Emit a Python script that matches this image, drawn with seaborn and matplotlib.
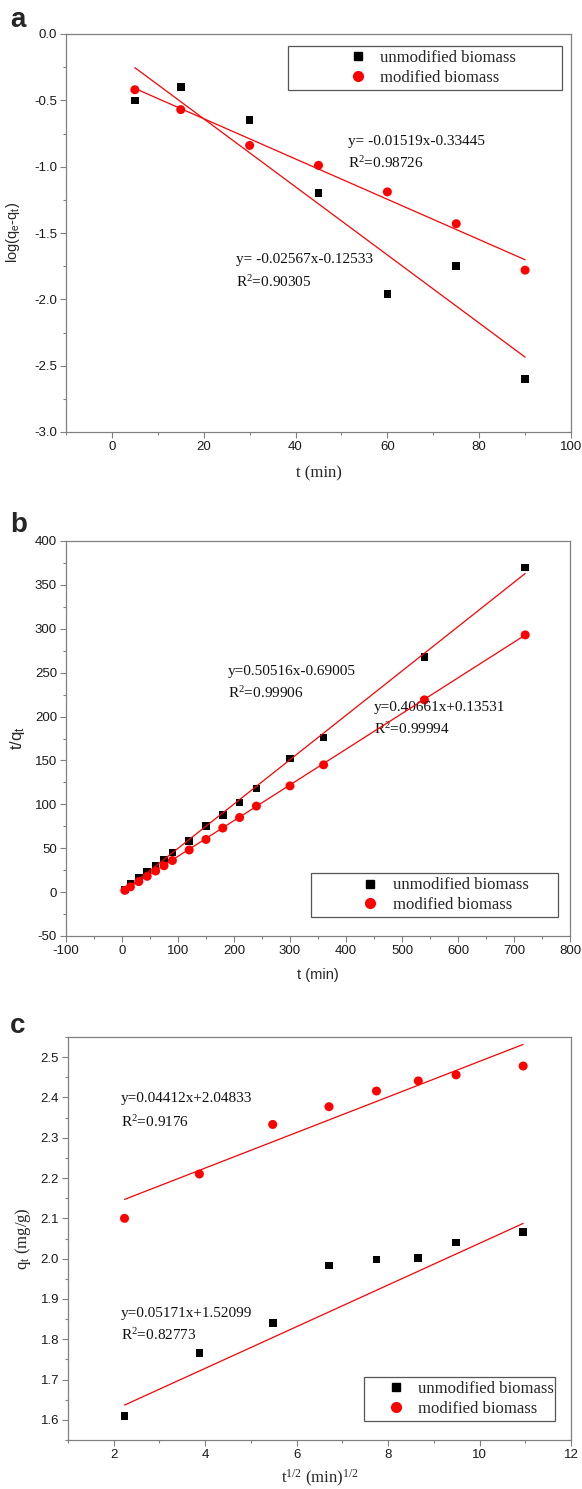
import numpy as np
import pandas as pd
import matplotlib
matplotlib.use("Agg")
import matplotlib.pyplot as plt
from matplotlib.lines import Line2D
from matplotlib.ticker import MultipleLocator
import seaborn as sns

# ---------------- data ----------------
series_names = ["unmodified biomass", "modified biomass"]

# panel a : pseudo-first-order
t_a = [5, 15, 30, 45, 60, 75, 90]
a_unmod = [-0.50, -0.40, -0.65, -1.20, -1.96, -1.75, -2.60]
a_mod = [-0.42, -0.57, -0.84, -0.99, -1.19, -1.43, -1.78]
a_fit_unmod = (-0.02567, -0.12533)
a_fit_mod = (-0.01519, -0.33445)
a_eq_unmod = ["y= -0.02567x-0.12533", "R$^\\mathrm{2}$=0.90305"]
a_eq_mod = ["y= -0.01519x-0.33445", "R$^\\mathrm{2}$=0.98726"]

# panel b : pseudo-second-order
t_b = [5, 15, 30, 45, 60, 75, 90, 120, 150, 180, 210, 240, 300, 360, 540, 720]
b_unmod = [3, 9, 16, 23, 30, 37, 45, 58, 75, 88, 102, 118, 152, 176, 268, 370]
b_mod = [2, 6, 12, 18, 24, 30, 36, 48, 60, 73, 85, 98, 121, 145, 219, 293]
b_fit_unmod = (0.50516, -0.69005)
b_fit_mod = (0.40661, 0.13531)
b_eq_unmod = ["y=0.50516x-0.69005", "R$^\\mathrm{2}$=0.99906"]
b_eq_mod = ["y=0.40661x+0.13531", "R$^\\mathrm{2}$=0.99994"]

# panel c : intraparticle diffusion
sqrt_t_c = [2.236, 3.873, 5.477, 6.708, 7.746, 8.660, 9.487, 10.954]
c_unmod = [1.610, 1.766, 1.840, 1.983, 1.998, 2.001, 2.040, 2.066]
c_mod = [2.100, 2.210, 2.333, 2.377, 2.416, 2.441, 2.456, 2.478]
c_fit_unmod = (0.05171, 1.52099)
c_fit_mod = (0.04412, 2.04833)
c_eq_unmod = ["y=0.05171x+1.52099", "R$^\\mathrm{2}$=0.82773"]
c_eq_mod = ["y=0.04412x+2.04833", "R$^\\mathrm{2}$=0.9176"]

# ---------------- style ----------------
sns.set_theme(style="ticks")
SANS = ["Liberation Sans", "DejaVu Sans"]
SERIF = ["Liberation Serif", "DejaVu Serif"]
plt.rcParams["font.family"] = SANS
plt.rcParams["axes.unicode_minus"] = False
plt.rcParams["mathtext.fontset"] = "custom"
plt.rcParams["mathtext.rm"] = "Liberation Serif"
plt.rcParams["mathtext.it"] = "Liberation Serif:italic"
plt.rcParams["mathtext.sf"] = "Liberation Sans"
plt.rcParams["mathtext.bf"] = "Liberation Sans:bold"

AX_COL = "#808080"
palette = {series_names[0]: "black", series_names[1]: "#ff0000"}
markers = {series_names[0]: "s", series_names[1]: "o"}
msize = {series_names[0]: 30, series_names[1]: 42}

fig = plt.figure(figsize=(5.82, 14.89), dpi=100)
W, H = 582.0, 1489.0


def make_ax(left, right, top, bottom):
    return fig.add_axes([left / W, 1 - bottom / H, (right - left) / W, (bottom - top) / H])


def style_ax(ax, xlim, ylim, xmaj, xmin, ymaj, ymin):
    ax.set_xlim(*xlim)
    ax.set_ylim(*ylim)
    ax.xaxis.set_major_locator(MultipleLocator(xmaj))
    ax.xaxis.set_minor_locator(MultipleLocator(xmin))
    ax.yaxis.set_major_locator(MultipleLocator(ymaj))
    ax.yaxis.set_minor_locator(MultipleLocator(ymin))
    for sp in ax.spines.values():
        sp.set_visible(True)
        sp.set_color(AX_COL)
        sp.set_linewidth(0.9)
    ax.tick_params(which="both", direction="out", color=AX_COL, width=0.8,
                   top=False, right=False, labelsize=9.5, labelcolor="#1a1a1a", pad=2.5)
    ax.tick_params(which="major", length=4)
    ax.tick_params(which="minor", length=2.5)
    ax.grid(False)


def draw_series(ax, x, yu, ym, fu, fm):
    df = pd.DataFrame({
        "x": list(x) + list(x),
        "y": list(yu) + list(ym),
        "series": [series_names[0]] * len(x) + [series_names[1]] * len(x),
    })
    for name in series_names:
        sns.scatterplot(data=df[df["series"] == name], x="x", y="y",
                        color=palette[name], marker=markers[name], s=msize[name],
                        edgecolor="none", linewidth=0, legend=False, ax=ax, zorder=3)
    xs = np.array([min(x), max(x)])
    for (k, b) in (fu, fm):
        sns.lineplot(x=xs, y=k * xs + b, color="#ff0000", linewidth=0.9,
                     estimator=None, ax=ax, zorder=4)
    ax.set_xlabel("")
    ax.set_ylabel("")


def add_legend(ax, x0, x1, ytop, hl, htp):
    handles = [Line2D([], [], linestyle="none", marker=markers[n], color=palette[n],
                      markersize=(6.0 if markers[n] == "s" else 7.0)) for n in series_names]
    leg = ax.legend(handles, series_names, loc="upper left",
                    bbox_to_anchor=(x0, ytop - 0.2, x1 - x0, 0.2), mode="expand",
                    borderaxespad=0, borderpad=0.25, labelspacing=0.22,
                    handlelength=hl, handletextpad=htp, numpoints=1,
                    frameon=True, fancybox=False, prop={"family": SERIF, "size": 12})
    fr = leg.get_frame()
    fr.set_edgecolor("#555555")
    fr.set_linewidth(0.9)
    fr.set_alpha(1)
    return leg


def add_eq(ax, x, y1, y2, lines):
    ax.text(x, y1, lines[0], family=SERIF, fontsize=11, va="center", ha="left", color="#111")
    ax.text(x, y2, lines[1], family=SERIF, fontsize=11, va="center", ha="left", color="#111")


# ---------------- panel a ----------------
axa = make_ax(66, 571, 34, 432)
draw_series(axa, t_a, a_unmod, a_mod, a_fit_unmod, a_fit_mod)
style_ax(axa, (-10, 100), (-3.0, 0.0), 20, 10, 0.5, 0.25)
axa.set_ylabel("log(q$_\\mathsf{e}$-q$_\\mathsf{t}$)", family=SANS, fontsize=10.5)
axa.yaxis.set_label_coords(-0.088, 0.5)
axa.set_xlabel("t (min)", family=SERIF, fontsize=12)
axa.xaxis.set_label_coords(0.5, -0.085)
add_legend(axa, 0.44, 0.982, 0.970, 7.9, -2.65)
add_eq(axa, 51.5, -0.81, -0.975, a_eq_mod)
add_eq(axa, 27.0, -1.70, -1.87, a_eq_unmod)
fig.text(10 / W, 1 - 20 / H, "a", fontsize=20, fontweight="bold", va="center", ha="left")

# ---------------- panel b ----------------
axb = make_ax(66, 570, 541, 936)
draw_series(axb, t_b, b_unmod, b_mod, b_fit_unmod, b_fit_mod)
style_ax(axb, (-100, 800), (-50, 400), 100, 50, 50, 25)
axb.set_ylabel("t/q$_\\mathsf{t}$", family=SANS, fontsize=12)
axb.yaxis.set_label_coords(-0.077, 0.5)
axb.set_xlabel("t (min)", family=SANS, fontsize=10.5)
axb.xaxis.set_label_coords(0.5, -0.082)
add_legend(axb, 0.486, 0.976, 0.159, 6.6, -1.95)
add_eq(axb, 189, 251, 227, b_eq_unmod)
add_eq(axb, 450, 210, 186, b_eq_mod)
fig.text(10 / W, 1 - 525 / H, "b", fontsize=20, fontweight="bold", va="center", ha="left")

# ---------------- panel c ----------------
axc = make_ax(68, 571, 1037, 1440)
draw_series(axc, sqrt_t_c, c_unmod, c_mod, c_fit_unmod, c_fit_mod)
style_ax(axc, (1, 12), (1.55, 2.55), 2, 1, 0.1, 0.05)
axc.set_ylabel("q$_\\mathrm{t}$ (mg/g)", family=SERIF, fontsize=12)
axc.yaxis.set_label_coords(-0.07, 0.5)
axc.set_xlabel("t$^{\\mathrm{1/2}}$ (min)$^{\\mathrm{1/2}}$", family=SERIF, fontsize=12)
axc.xaxis.set_label_coords(0.5, -0.068)
add_legend(axc, 0.588, 0.968, 0.156, 3.4, -0.4)
add_eq(axc, 2.15, 2.397, 2.34, c_eq_mod)
add_eq(axc, 2.15, 1.863, 1.811, c_eq_unmod)
fig.text(10 / W, 1 - 1026 / H, "c", fontsize=20, fontweight="bold", va="center", ha="left")

fig.savefig("out.png", dpi=100)
